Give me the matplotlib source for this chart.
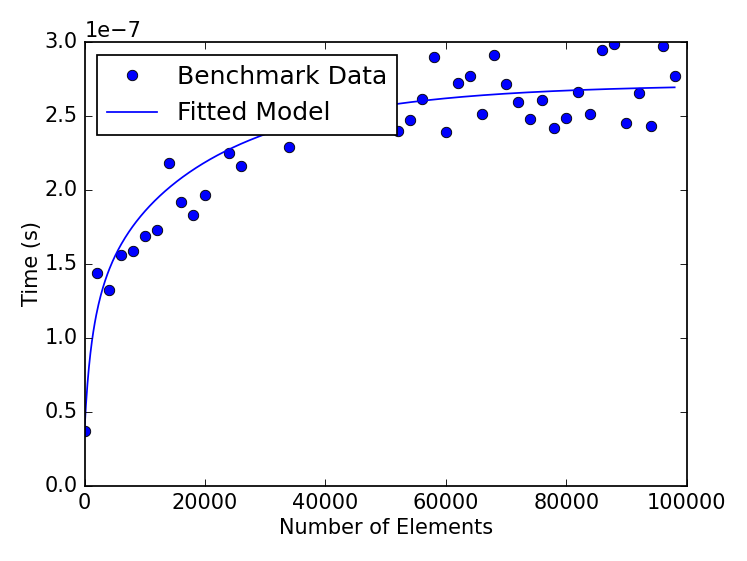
import numpy as np
import matplotlib
matplotlib.use("Agg")
import matplotlib.pyplot as plt

plt.style.use("classic")

# Benchmark data (number of elements, time in units of 1e-7 s)
n_elements = [0, 2000, 4000, 6000, 8000, 10000, 12000, 14000, 16000, 18000,
              20000, 22000, 24000, 26000, 28000, 30000, 32000, 34000, 36000, 38000,
              40000, 42000, 44000, 46000, 48000, 50000, 52000, 54000, 56000, 58000,
              60000, 62000, 64000, 66000, 68000, 70000, 72000, 74000, 76000, 78000,
              80000, 82000, 84000, 86000, 88000, 90000, 92000, 94000, 96000, 98000]
time_e7 = [0.372, 1.44, 1.324, 1.563, 1.588, 1.691, 1.732, 2.185, 1.919, 1.833,
           1.968, 2.45, 2.248, 2.162, 2.50, 2.62, 2.47, 2.293, 2.55, 2.70,
           2.48, 2.60, 2.52, 2.75, 2.58, 2.66, 2.397, 2.473, 2.615, 2.903,
           2.392, 2.728, 2.772, 2.514, 2.912, 2.721, 2.595, 2.482, 2.608, 2.419,
           2.489, 2.664, 2.516, 2.950, 2.990, 2.457, 2.655, 2.435, 2.973, 2.772]

# Fitted model parameters (time in 1e-7 s, size in elements)
fit_plateau = 2.73
fit_slow_amp = 1.085
fit_slow_scale = 22500.0
fit_fast_amp = 1.275
fit_fast_scale = 1630.0

x = np.array(n_elements, dtype=float)
y = np.array(time_e7) * 1e-7

xf = np.linspace(min(n_elements), max(n_elements), 800)
yf = (fit_plateau
      - fit_slow_amp * np.exp(-xf / fit_slow_scale)
      - fit_fast_amp / (1.0 + xf / fit_fast_scale)) * 1e-7

DPI = 125
fig = plt.figure(figsize=(747 / DPI, 561 / DPI), dpi=DPI)
ax = fig.add_axes([84.5 / 747, (561 - 485.7) / 561,
                   (686.7 - 84.5) / 747, (485.7 - 42.3) / 561])

ax.plot(x, y, "o", color="b", mec="k", mew=0.5, markersize=6,
        label="Benchmark Data")
ax.plot(xf, yf, "-", color="b", linewidth=1.0, label="Fitted Model")

ax.set_xlim(0, 100000)
ax.set_ylim(0, 3.0e-7)
ax.set_xlabel("Number of Elements", labelpad=3)
ax.set_ylabel("Time (s)", labelpad=1.5)
ax.legend(loc="upper left", numpoints=1)

fig.savefig("out.png", dpi=DPI)
